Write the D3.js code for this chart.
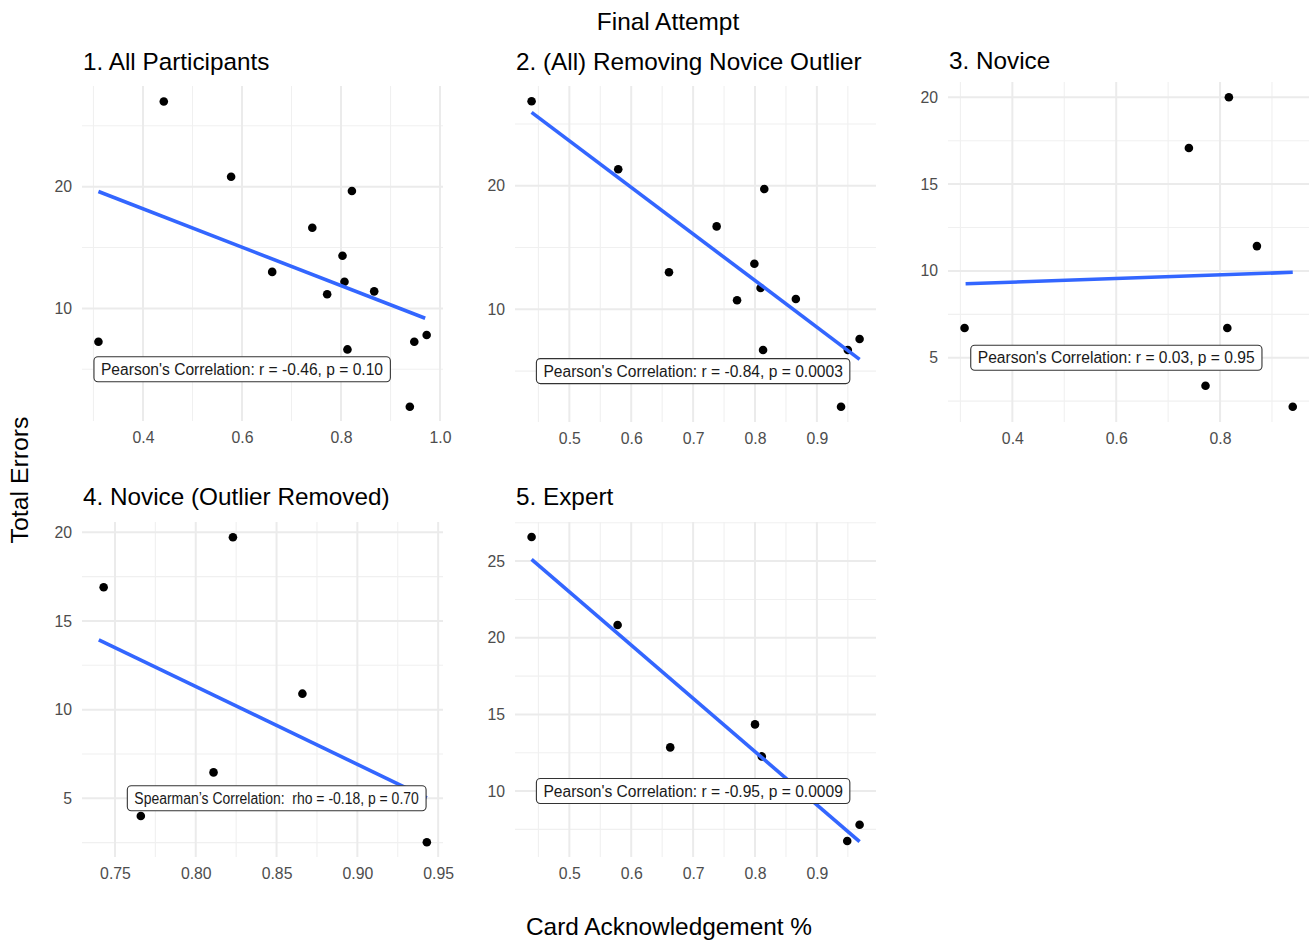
<!DOCTYPE html>
<html>
<head>
<meta charset="utf-8">
<script src="https://cdn.jsdelivr.net/npm/d3@7"></script>
<style>
body { margin: 0; background: #fff; }
svg { font-family: "Liberation Sans", Arial, Helvetica, sans-serif; }
</style>
</head>
<body>
<svg id="chart" width="1312" height="942"></svg>
<script>
// values, one pair of arrays per panel
var titles = ['1. All Participants', '2. (All) Removing Novice Outlier', '3. Novice', '4. Novice (Outlier Removed)', '5. Expert']

var allX = [0.310, 0.442, 0.578, 0.661, 0.742, 0.772, 0.803, 0.807, 0.822, 0.813, 0.867, 0.939, 0.948, 0.973]
var allY = [7.26, 27.0, 20.82, 13.0, 16.63, 11.16, 14.33, 12.19, 19.65, 6.63, 11.4, 1.92, 7.26, 7.81]

var trimX = [0.439, 0.579, 0.815, 0.738, 0.661, 0.799, 0.809, 0.771, 0.866, 0.813, 0.950, 0.969, 0.939]
var trimY = [26.83, 21.33, 19.73, 16.71, 13.0, 13.69, 11.72, 10.73, 10.83, 6.71, 6.71, 7.60, 2.12]

var noviceX = [0.308, 0.740, 0.817, 0.871, 0.814, 0.772, 0.940]
var noviceY = [6.71, 17.08, 20.0, 11.43, 6.71, 3.39, 2.18]

var noviceTrimX = [0.743, 0.823, 0.866, 0.811, 0.766, 0.943]
var noviceTrimY = [16.9, 19.72, 10.9, 6.46, 4.0, 2.52]

var expertX = [0.439, 0.578, 0.663, 0.800, 0.811, 0.949, 0.969]
var expertY = [26.57, 20.83, 12.85, 14.35, 12.26, 6.74, 7.80]

// fitted lm line ends (x0, x1) -> (y0, y1)
var fitX = [[0.310, 0.970], [0.439, 0.969], [0.310, 0.940], [0.740, 0.943], [0.439, 0.969]]
var fitY = [[19.6, 9.19], [25.94, 5.95], [9.26, 9.92], [13.93, 5.03], [25.11, 6.70]]

var labelText = [
	"Pearson's Correlation: r = -0.46, p = 0.10",
	"Pearson's Correlation: r = -0.84, p = 0.0003",
	"Pearson's Correlation: r = 0.03, p = 0.95",
	"Spearman\u2019s Correlation:  rho = -0.18, p = 0.70",
	"Pearson's Correlation: r = -0.95, p = 0.0009"
]
var labelX = [0.6, 0.7, 0.6, 0.85, 0.7]
var labelY = [5, 5, 5, 5, 10]

var xDomains = [[0.2768, 1.006], [0.4122, 0.9955], [0.2761, 0.9713], [0.7296, 0.953], [0.4122, 0.9955]]
var yDomains = [[0.75, 28.27], [0.88, 28.07], [1.30, 20.88], [1.69, 20.58], [5.70, 27.55]]

var xMajor = [[0.4, 0.6, 0.8, 1.0], [0.5, 0.6, 0.7, 0.8, 0.9], [0.4, 0.6, 0.8], [0.75, 0.80, 0.85, 0.90, 0.95], [0.5, 0.6, 0.7, 0.8, 0.9]]
var xMinor = [[0.3, 0.5, 0.7, 0.9], [0.45, 0.55, 0.65, 0.75, 0.85, 0.95], [0.3, 0.5, 0.7, 0.9], [0.775, 0.825, 0.875, 0.925], [0.45, 0.55, 0.65, 0.75, 0.85, 0.95]]
var yMajor = [[10, 20], [10, 20], [5, 10, 15, 20], [5, 10, 15, 20], [10, 15, 20, 25]]
var yMinor = [[5, 15, 25], [5, 15, 25], [2.5, 7.5, 12.5, 17.5], [2.5, 7.5, 12.5, 17.5], [7.5, 12.5, 17.5, 22.5, 27.5]]
var xFormat = ['.1f', '.1f', '.1f', '.2f', '.1f']

var panelData = [[allX, allY], [trimX, trimY], [noviceX, noviceY], [noviceTrimX, noviceTrimY], [expertX, expertY]]

// panel boxes on the page
var boxes = [
	{x: 82, y: 86, w: 361, h: 335},
	{x: 515, y: 86, w: 361, h: 336},
	{x: 948, y: 82, w: 361, h: 340},
	{x: 82, y: 522, w: 361, h: 335},
	{x: 515, y: 522, w: 361, h: 335}
]
var titleY = [70, 70, 68.5, 505, 505]

var svg = d3.select('#chart')

svg.append('text')
	.attr('x', 668).attr('y', 30)
	.attr('text-anchor', 'middle')
	.attr('font-size', 24.4)
	.text('Final Attempt')

svg.append('text')
	.attr('x', 669).attr('y', 935)
	.attr('text-anchor', 'middle')
	.attr('font-size', 24.4)
	.text('Card Acknowledgement %')

svg.append('text')
	.attr('transform', 'translate(28,480) rotate(-90)')
	.attr('text-anchor', 'middle')
	.attr('font-size', 24.8)
	.text('Total Errors')

boxes.forEach(function(b, i) {
	var x = d3.scaleLinear().domain(xDomains[i]).range([b.x, b.x + b.w])
	var y = d3.scaleLinear().domain(yDomains[i]).range([b.y + b.h, b.y])
	var g = svg.append('g')

	// grid
	g.selectAll('.vminor').data(xMinor[i]).enter().append('line')
		.attr('x1', d => x(d)).attr('x2', d => x(d))
		.attr('y1', b.y).attr('y2', b.y + b.h)
		.attr('stroke', '#f0f0f0').attr('stroke-width', 1.1)
	g.selectAll('.hminor').data(yMinor[i]).enter().append('line')
		.attr('y1', d => y(d)).attr('y2', d => y(d))
		.attr('x1', b.x).attr('x2', b.x + b.w)
		.attr('stroke', '#f0f0f0').attr('stroke-width', 1.1)
	g.selectAll('.vmajor').data(xMajor[i]).enter().append('line')
		.attr('x1', d => x(d)).attr('x2', d => x(d))
		.attr('y1', b.y).attr('y2', b.y + b.h)
		.attr('stroke', '#ebebeb').attr('stroke-width', 2)
	g.selectAll('.hmajor').data(yMajor[i]).enter().append('line')
		.attr('y1', d => y(d)).attr('y2', d => y(d))
		.attr('x1', b.x).attr('x2', b.x + b.w)
		.attr('stroke', '#ebebeb').attr('stroke-width', 2)

	// axes, text only
	var xa = g.append('g')
		.attr('transform', 'translate(0,' + (b.y + b.h) + ')')
		.call(d3.axisBottom(x).tickValues(xMajor[i]).tickFormat(d3.format(xFormat[i])).tickSize(0).tickPadding(11))
	var ya = g.append('g')
		.attr('transform', 'translate(' + b.x + ',0)')
		.call(d3.axisLeft(y).tickValues(yMajor[i]).tickFormat(d3.format('d')).tickSize(0).tickPadding(10))
	;[xa, ya].forEach(a => {
		a.select('.domain').remove()
		a.attr('font-family', null).attr('font-size', 15.8)
		a.selectAll('text').attr('fill', '#4d4d4d')
	})

	g.append('text')
		.attr('x', b.x + 1).attr('y', titleY[i])
		.attr('font-size', 24.3)
		.text(titles[i])

	var pts = panelData[i][0].map((v, k) => [v, panelData[i][1][k]])
	g.selectAll('circle').data(pts).enter().append('circle')
		.attr('cx', d => x(d[0]))
		.attr('cy', d => y(d[1]))
		.attr('r', 4.3)
		.attr('fill', '#000')

	g.append('line')
		.attr('x1', x(fitX[i][0])).attr('y1', y(fitY[i][0]))
		.attr('x2', x(fitX[i][1])).attr('y2', y(fitY[i][1]))
		.attr('stroke', '#3366ff').attr('stroke-width', 3.6)

	// annotation label
	var lab = g.append('g').attr('transform', 'translate(' + x(labelX[i]) + ',' + y(labelY[i]) + ')')
	var rect = lab.append('rect')
	var t = lab.append('text')
		.attr('text-anchor', 'middle')
		.attr('dy', '0.36em')
		.attr('font-size', 15.6)
		.attr('fill', '#1a1a1a')
		.style('white-space', 'pre')
		.text(labelText[i])
	if (i == 3) {
		var len = t.node().getComputedTextLength()
		t.attr('textLength', len * 0.895).attr('lengthAdjust', 'spacingAndGlyphs')
	}
	var bb = t.node().getBBox()
	rect.attr('x', bb.x - 7).attr('y', -12.5)
		.attr('width', bb.width + 14).attr('height', 25)
		.attr('rx', 4)
		.attr('fill', '#fff')
		.attr('stroke', '#333').attr('stroke-width', 1.1)
})
</script>
</body>
</html>
